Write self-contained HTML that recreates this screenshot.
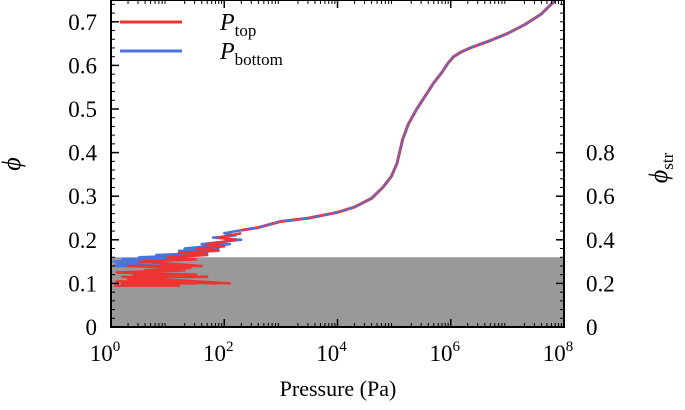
<!DOCTYPE html>
<html><head><meta charset="utf-8"><style>
html,body{margin:0;padding:0;background:#fff;}
svg text{font-family:"Liberation Serif",serif;fill:#000;}
</style></head><body>
<svg id="chart" width="685" height="405" viewBox="0 0 685 405" xmlns="http://www.w3.org/2000/svg">
</svg>
<script>
const xTicks=[0,2,4,6,8];
const yTicks=[0,0.1,0.2,0.3,0.4,0.5,0.6,0.7];
const yTickLabels=["0","0.1","0.2","0.3","0.4","0.5","0.6","0.7"];
const y2Ticks=[0,0.2,0.4,0.6,0.8];
const y2TickLabels=["0","0.2","0.4","0.6","0.8"];
const thresholdPhi=0.16;
// main curve (log10 P, phi)
const mainLogP=[2.3,2.6,3,3.5,4,4.3,4.6,4.8,4.95,5.05,5.15,5.25,5.4,5.55,5.7,5.85,5.95,6.05,6.2,6.4,6.7,7,7.3,7.6,7.85];
const mainPhi=[0.222,0.228,0.242,0.25,0.263,0.275,0.295,0.32,0.345,0.375,0.43,0.465,0.5,0.53,0.56,0.585,0.605,0.62,0.632,0.643,0.657,0.673,0.693,0.718,0.75];
// noisy blue (bottom)
const blueLogP=[0.05,1.0,0.1,0.9,0.05,1.3,0.2,1.2,0.5,1.5,0.8,1.7,1.2,1.9,1.3,2.1,1.6,2.3,1.8,2.2,2.0,2.3];
const bluePhi=[0.14,0.14,0.145,0.15,0.15,0.155,0.155,0.16,0.16,0.165,0.165,0.17,0.175,0.18,0.18,0.19,0.19,0.2,0.205,0.21,0.215,0.222];
// noisy red (top)
const redLogP=[0.05,1.2,0.2,1.5,0.1,1.9,0.3,2.1,0.2,1.7,0.4,1.5,0.1,1.3,0.6,1.4,0.3,1.6,0.5,1.5,1.0,1.7,1.2,1.9,1.5,2.0,1.7,2.2,1.9,2.3];
const redPhi=[0.095,0.095,0.1,0.1,0.105,0.1,0.11,0.1,0.115,0.115,0.12,0.12,0.125,0.13,0.13,0.135,0.14,0.14,0.15,0.155,0.16,0.165,0.17,0.175,0.18,0.185,0.19,0.2,0.205,0.215];
const X0=111,X1=564,Y0=327,Y1=0;
const xs=v=>X0+(v/8)*(X1-X0);
const ys=v=>Y0-(v/0.75)*(Y0-Y1);
const ys2=v=>ys(v/2);
const NS="http://www.w3.org/2000/svg";
const svg=document.getElementById('chart');
function mk(t,a){const e=document.createElementNS(NS,t);for(const k in a)e.setAttribute(k,a[k]);svg.appendChild(e);return e;}
let e;
e=mk('rect',{x:X0,y:ys(thresholdPhi),width:X1-X0,height:Y0-ys(thresholdPhi),fill:'#999'});


function line(lx,ly,col,w,name){
 const pts=lx.map((v,i)=>xs(v)+','+ys(ly[i])).join(' ');
 const p=mk('polyline',{points:pts,fill:'none',stroke:col,'stroke-width':w,'stroke-linejoin':'round'});
 
 
}
line(blueLogP,bluePhi,'#4a72e0',2.5,'p-bottom-noisy');
line(redLogP,redPhi,'#ee3333',2.5,'p-top-noisy');
line(mainLogP,mainPhi,'#ee3333',3,'p-top-line');
line(mainLogP,mainPhi,'#4a72e0',1.4,'p-bottom-line');
e=mk('rect',{x:X0,y:Y1,width:X1-X0,height:Y0-Y1,fill:'none',stroke:'#000','stroke-width':2});


for(let d=0;d<8;d++)for(let m=2;m<10;m++){const x=xs(d+Math.log10(m));mk('line',{x1:x,x2:x,y1:Y0,y2:Y0-4,stroke:'#000'});mk('line',{x1:x,x2:x,y1:Y1,y2:Y1+4,stroke:'#000'});}
xTicks.forEach(v=>{const x=xs(v);mk('line',{x1:x,x2:x,y1:Y0,y2:Y0-8,stroke:'#000','stroke-width':1.5});mk('line',{x1:x,x2:x,y1:Y1,y2:Y1+8,stroke:'#000','stroke-width':1.5});
 const t=mk('text',{x:x-6,y:361,'font-size':23,'text-anchor':'middle'});t.innerHTML='10<tspan dy="-10" font-size="15">'+v+'</tspan>';
 
 });
for(let v=0;v<=0.75;v+=0.02){const y=ys(v);mk('line',{x1:X0,x2:X0+4,y1:y,y2:y,stroke:'#000'});}
yTicks.forEach((v,i)=>{const y=ys(v);mk('line',{x1:X0,x2:X0+8,y1:y,y2:y,stroke:'#000','stroke-width':1.5});
 const t=mk('text',{x:97,y:y+8,'font-size':23,'text-anchor':'end'});t.textContent=yTickLabels[i];
 
 });
for(let v=0;v<=1.5;v+=0.04){const y=ys2(v);mk('line',{x1:X1,x2:X1-4,y1:y,y2:y,stroke:'#000'});}
y2Ticks.forEach((v,i)=>{const y=ys2(v);mk('line',{x1:X1,x2:X1-8,y1:y,y2:y,stroke:'#000','stroke-width':1.5});
 const t=mk('text',{x:586,y:y+8,'font-size':23});t.textContent=y2TickLabels[i];
 
 });
e=mk('text',{x:338,y:396,'font-size':22,'text-anchor':'middle'});e.textContent='Pressure (Pa)';


e=mk('text',{x:20,y:164,'font-size':26,'font-style':'italic','text-anchor':'middle',transform:'rotate(-90 20 164)'});e.textContent='ϕ';


e=mk('text',{x:667,y:168,'font-size':26,'text-anchor':'middle',transform:'rotate(-90 667 168)'});e.innerHTML='<tspan font-style="italic">ϕ</tspan><tspan dy="6" font-size="17">str</tspan>';


e=mk('line',{x1:120,x2:182,y1:22,y2:22,stroke:'#ee3333','stroke-width':3});


e=mk('line',{x1:120,x2:182,y1:51,y2:51,stroke:'#4a72e0','stroke-width':3});


e=mk('text',{x:220,y:30,'font-size':24});e.innerHTML='<tspan font-style="italic">P</tspan><tspan dy="6" font-size="17">top</tspan>';


e=mk('text',{x:220,y:59,'font-size':24});e.innerHTML='<tspan font-style="italic">P</tspan><tspan dy="6" font-size="17">bottom</tspan>';


</script>
</body></html>
